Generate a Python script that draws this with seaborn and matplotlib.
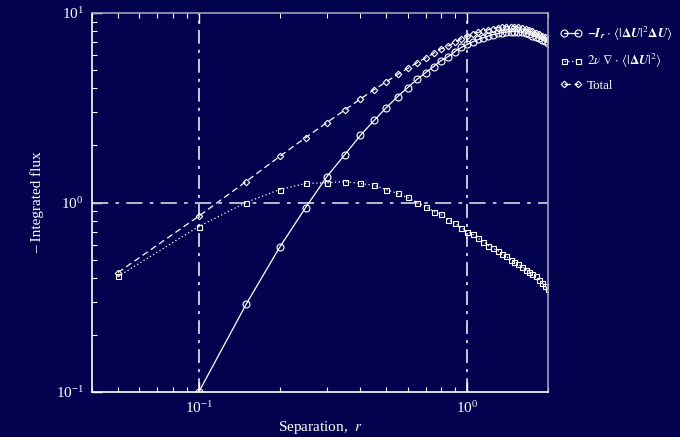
import numpy as np
import matplotlib
matplotlib.use("Agg")
import matplotlib.pyplot as plt
import matplotlib.ticker as mticker
import seaborn as sns

# separation r, every 0.05 from 0.05 to 2.0
r = [0.05, 0.10, 0.15, 0.20, 0.25, 0.30, 0.35, 0.40, 0.45, 0.50,
     0.55, 0.60, 0.65, 0.70, 0.75, 0.80, 0.85, 0.90, 0.95, 1.00,
     1.05, 1.10, 1.15, 1.20, 1.25, 1.30, 1.35, 1.40, 1.45, 1.50,
     1.55, 1.60, 1.65, 1.70, 1.75, 1.80, 1.85, 1.90, 1.95, 2.00]

# -I_r . <|dU|^2 dU>
flux_third = [0.02, 0.10, 0.29, 0.58, 0.94, 1.37, 1.79, 2.26, 2.71, 3.17,
              3.62, 4.04, 4.46, 4.85, 5.22, 5.61, 5.89, 6.26, 6.58, 6.82,
              7.05, 7.25, 7.42, 7.57, 7.70, 7.80, 7.88, 7.94, 7.97, 7.98,
              7.96, 7.90, 7.82, 7.72, 7.60, 7.48, 7.35, 7.22, 7.08, 6.95]

# 2 nu grad . <|dU|^2>
flux_visc = [0.407, 0.747, 1.00, 1.17, 1.26, 1.27, 1.29, 1.26, 1.23, 1.17,
             1.116, 1.063, 1.00, 0.952, 0.896, 0.865, 0.813, 0.775, 0.738, 0.703,
             0.678, 0.646, 0.622, 0.593, 0.572, 0.558, 0.538, 0.519, 0.500, 0.488,
             0.471, 0.459, 0.443, 0.432, 0.417, 0.407, 0.392, 0.378, 0.362, 0.350]

# total
flux_total = [0.427, 0.847, 1.29, 1.75, 2.20, 2.64, 3.08, 3.52, 3.94, 4.34,
              4.74, 5.10, 5.46, 5.80, 6.12, 6.48, 6.70, 7.04, 7.32, 7.52,
              7.73, 7.90, 8.04, 8.16, 8.27, 8.36, 8.42, 8.46, 8.47, 8.47,
              8.43, 8.36, 8.26, 8.15, 8.02, 7.89, 7.74, 7.60, 7.44, 7.30]

bg = "#02024e"
fg = "white"

sns.set_style("ticks")
plt.rcParams["font.family"] = ["Liberation Serif", "DejaVu Serif"]
plt.rcParams["mathtext.fontset"] = "stix"

fig = plt.figure(figsize=(6.8, 4.37), dpi=100, facecolor=bg)
ax = fig.add_axes([92 / 680, 45 / 437, 456 / 680, 379 / 437])
ax.set_facecolor(bg)

lab1 = r"$\mathbfit{-I}_{\mathbfit{r}}\cdot\,\langle|\mathbf{\Delta}\mathbfit{U}|^{2}\mathbf{\Delta}\mathbfit{U}\rangle$"
lab2 = r"$2\nu\ \nabla\cdot\,\langle|\mathbf{\Delta}\mathbfit{U}|^{2}\rangle$"

sns.lineplot(x=r, y=flux_third, ax=ax, color=fg, lw=0.9, linestyle="-",
             marker="o", ms=5, mfc="none", mec=fg, mew=0.8, label=lab1)
sns.lineplot(x=r, y=flux_visc, ax=ax, color=fg, lw=0.9, linestyle=(0, (1, 2)),
             marker="s", ms=3.6, mfc="none", mec=fg, mew=0.8, label=lab2)
sns.lineplot(x=r, y=flux_total, ax=ax, color=fg, lw=0.9, linestyle=(0, (5, 3)),
             marker="D", ms=3.3, mfc="none", mec=fg, mew=0.8, label="Total")

ax.set_xscale("log")
ax.set_yscale("log")
ax.set_xlim(0.04, 2.0)
ax.set_ylim(0.1, 10)

dashdot = (0, (9, 4, 2, 4))
for xv in [0.1, 1.0]:
    ax.axvline(xv, color=fg, lw=1.1, linestyle=dashdot, zorder=1)
ax.axhline(1.0, color="#c8c8d8", lw=1.3, linestyle=dashdot, zorder=1)

ax.xaxis.set_minor_formatter(mticker.NullFormatter())
ax.yaxis.set_minor_formatter(mticker.NullFormatter())
ax.tick_params(which="both", direction="in", colors=fg, labelsize=11,
               top=True, right=False)
ax.tick_params(which="major", length=7, width=1, pad=6)
ax.tick_params(which="minor", length=3.5, width=0.8)

for s in ["left", "bottom"]:
    ax.spines[s].set_color(fg)
    ax.spines[s].set_linewidth(1.2)
for s in ["top", "right"]:
    ax.spines[s].set_visible(True)
    ax.spines[s].set_color("#a0a0c0")
    ax.spines[s].set_linewidth(1.2)

ax.set_xlabel(r"Separation,  $r$", color=fg, fontsize=11, labelpad=2)
ax.set_ylabel("\u2013 Integrated flux", color=fg, fontsize=11, labelpad=8)

leg = ax.legend(loc="upper left", bbox_to_anchor=(1.0, 1.0), frameon=False,
                fontsize=9.4, handlelength=1.7, labelcolor=fg, numpoints=2,
                borderaxespad=0.5, labelspacing=0.72, handletextpad=0.4)

fig.savefig("out.png", dpi=100, facecolor=bg)
